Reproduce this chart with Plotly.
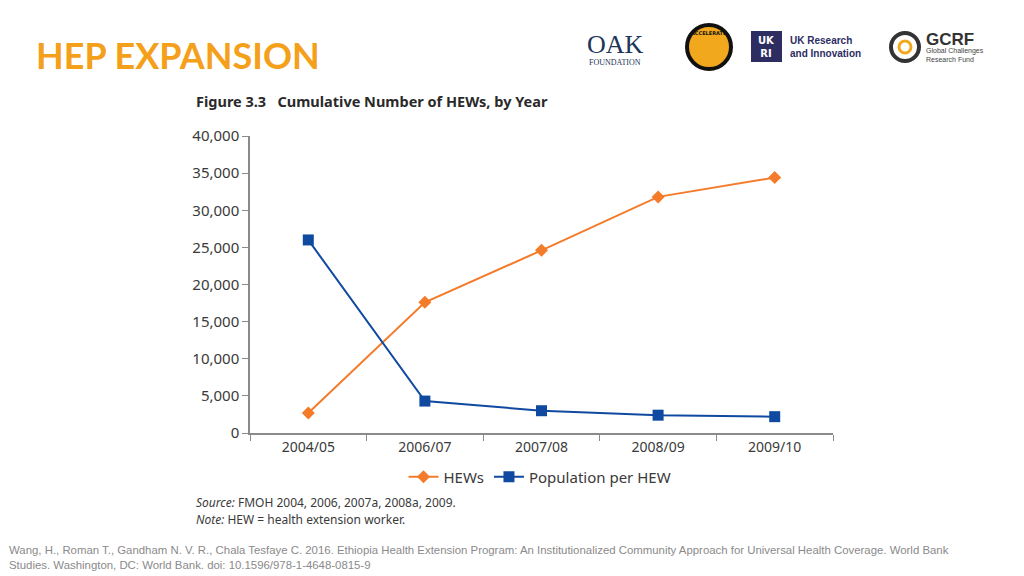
import plotly.graph_objects as go

categories = ["2004/05", "2006/07", "2007/08", "2008/09", "2009/10"]
hews = [2700, 17600, 24600, 31800, 34400]
pop_per_hew = [26000, 4300, 3000, 2400, 2200]
y_ticks = [0, 5000, 10000, 15000, 20000, 25000, 30000, 35000, 40000]

# page body has an 8px margin; work in screen pixels and compensate
OFF = 8
W, H = 1024 - OFF, 576 - OFF
L, R, T, B = 250, 833, 136, 433


def px(x):
    return (x - L) / (R - L)


def py(y):
    return (B - y) / (B - T)


ORANGE = "#F47B2A"
BLUE = "#0F4AA0"
AXIS = "#8a8a8a"
TXT = "#3a3a3a"
TICKFONT = "Noto Sans"

fig = go.Figure()
fig.add_trace(go.Scatter(
    x=categories, y=hews, name="HEWs", mode="lines+markers",
    line=dict(color=ORANGE, width=2),
    marker=dict(symbol="diamond", size=10, color=ORANGE),
))
fig.add_trace(go.Scatter(
    x=categories, y=pop_per_hew, name="Population per HEW", mode="lines+markers",
    line=dict(color=BLUE, width=2),
    marker=dict(symbol="square", size=11, color=BLUE),
))

fig.update_layout(
    width=W, height=H,
    margin=dict(l=L - OFF, r=W - (R - OFF), t=T - OFF, b=H - (B - OFF)),
    paper_bgcolor="white", plot_bgcolor="white",
    showlegend=True,
    legend=dict(orientation="h", x=px(540), xanchor="center", y=py(477), yanchor="middle",
                font=dict(family=TICKFONT, size=15, color=TXT), itemwidth=30,
                bgcolor="rgba(0,0,0,0)"),
    xaxis=dict(type="category", range=[-0.5, 4.5], showline=True, linecolor=AXIS, linewidth=1.5,
               ticks="outside", tickson="boundaries", ticklen=6, tickcolor=AXIS,
               showgrid=False, zeroline=False,
               tickfont=dict(family=TICKFONT, size=14, color=TXT)),
    yaxis=dict(range=[0, 40000], tickvals=y_ticks, tickformat=",", showline=True, linecolor=AXIS,
               linewidth=1.5, ticks="outside", ticklen=6, tickcolor=AXIS,
               showgrid=False, zeroline=False,
               tickfont=dict(family=TICKFONT, size=15, color=TXT)),
)

ann = []
shapes = []

# Slide title
ann.append(dict(text="<b>HEP EXPANSION</b>", x=px(34), y=py(55), xref="paper", yref="paper",
                xanchor="left", yanchor="middle", showarrow=False,
                font=dict(family="Lato", size=36, color="#F5A01A")))
# Figure title
ann.append(dict(text="<b>Figure 3.3</b>   <b>Cumulative Number of HEWs, by Year</b>",
                x=px(194), y=py(101), xref="paper", yref="paper",
                xanchor="left", yanchor="middle", showarrow=False,
                font=dict(family=TICKFONT, size=14.5, color="#2a2a2a")))
# Source and note
ann.append(dict(text="<i>Source:</i> FMOH 2004, 2006, 2007a, 2008a, 2009.",
                x=px(194), y=py(502), xref="paper", yref="paper",
                xanchor="left", yanchor="middle", showarrow=False,
                font=dict(family=TICKFONT, size=12, color=TXT)))
ann.append(dict(text="<i>Note:</i> HEW = health extension worker.",
                x=px(194), y=py(520), xref="paper", yref="paper",
                xanchor="left", yanchor="middle", showarrow=False,
                font=dict(family=TICKFONT, size=12, color=TXT)))
# Citation
ann.append(dict(text="Wang, H., Roman T., Gandham N. V. R., Chala Tesfaye C. 2016. Ethiopia Health Extension Program: "
                     "An Institutionalized Community Approach for Universal Health Coverage. World Bank<br>"
                     "Studies. Washington, DC: World Bank. doi: 10.1596/978-1-4648-0815-9",
                x=px(7), y=py(557), xref="paper", yref="paper",
                xanchor="left", yanchor="middle", align="left", showarrow=False,
                font=dict(family="Liberation Sans Narrow, Arial Narrow, sans-serif", size=11.4, color="#8a8a8a")))

# Logos (approximated with shapes and text)
ann.append(dict(text="OAK", x=px(615), y=py(44), xref="paper", yref="paper",
                xanchor="center", yanchor="middle", showarrow=False,
                font=dict(family="Liberation Serif", size=26, color="#1d3557")))
ann.append(dict(text="FOUNDATION", x=px(615), y=py(62), xref="paper", yref="paper",
                xanchor="center", yanchor="middle", showarrow=False,
                font=dict(family="Liberation Serif", size=8, color="#1d3557")))
shapes.append(dict(type="circle", xref="paper", yref="paper",
                   x0=px(687), x1=px(731), y0=py(25), y1=py(69),
                   fillcolor="#F2A81D", line=dict(color="#111", width=4)))
ann.append(dict(text="<b>ACCELERATE</b>", x=px(709), y=py(33), xref="paper", yref="paper",
                xanchor="center", yanchor="middle", showarrow=False,
                font=dict(family="DejaVu Sans", size=5, color="#111")))
shapes.append(dict(type="rect", xref="paper", yref="paper",
                   x0=px(751), x1=px(782), y0=py(31), y1=py(62),
                   fillcolor="#2E2D62", line=dict(width=0)))
ann.append(dict(text="<b>UK<br>RI</b>", x=px(766.5), y=py(46.5), xref="paper", yref="paper",
                xanchor="center", yanchor="middle", showarrow=False,
                font=dict(family="DejaVu Sans", size=10, color="white")))
ann.append(dict(text="<b>UK Research<br>and Innovation</b>", x=px(788), y=py(47), xref="paper", yref="paper",
                xanchor="left", yanchor="middle", align="left", showarrow=False,
                font=dict(family="Liberation Sans", size=10, color="#2E2D62")))
shapes.append(dict(type="circle", xref="paper", yref="paper",
                   x0=px(891), x1=px(919), y0=py(33), y1=py(61),
                   fillcolor="rgba(0,0,0,0)", line=dict(color="#333", width=4)))
shapes.append(dict(type="circle", xref="paper", yref="paper",
                   x0=px(899), x1=px(911), y0=py(41), y1=py(53),
                   fillcolor="rgba(0,0,0,0)", line=dict(color="#F2A81D", width=3)))
ann.append(dict(text="<b>GCRF</b>", x=px(924), y=py(39), xref="paper", yref="paper",
                xanchor="left", yanchor="middle", showarrow=False,
                font=dict(family="Liberation Sans", size=17, color="#333")))
ann.append(dict(text="Global Challenges<br>Research Fund", x=px(924), y=py(55), xref="paper", yref="paper",
                xanchor="left", yanchor="middle", align="left", showarrow=False,
                font=dict(family="Liberation Sans", size=7, color="#444")))

fig.update_layout(annotations=ann, shapes=shapes)

fig.write_html("out.html")
